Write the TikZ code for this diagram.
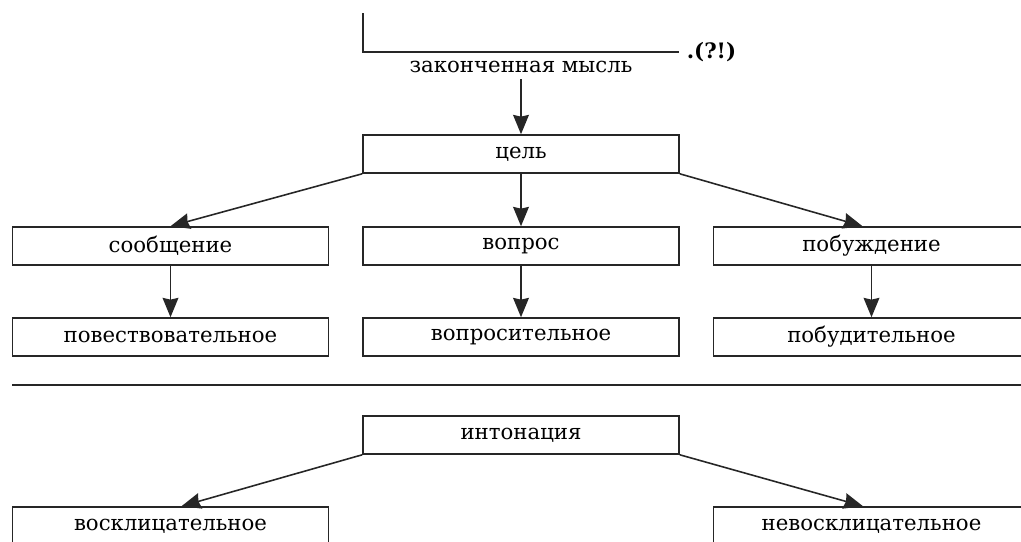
\documentclass[tikz,border=0pt]{standalone}
\usepackage{fontspec}
\setmainfont{DejaVu Serif}
\usetikzlibrary{arrows.meta}

\begin{document}
\begin{tikzpicture}[line width=0.9pt,x=0.02cm,y=-0.02cm,
    box/.style={draw=black!85,minimum width=6.32cm,minimum height=0.76cm,inner sep=0pt,font=\fontsize{12.1}{14}\selectfont},
    arr/.style={draw=black!85,-{Stealth[length=11pt,width=9pt,inset=1pt]}}]
  \useasboundingbox (0,0) rectangle (1021,541);
  \clip (0,0) rectangle (1021,541);
      \coordinate (brtop) at (363,13);
        \coordinate (brcorner) at (363,52);
          \coordinate (brend) at (679,52);
            \coordinate (ruleL) at (12,385);
              \coordinate (ruleR) at (1021,385);
  \draw[black!85] (brtop)--(brcorner)--(brend);
  \node[right,inner sep=4pt,font=\fontsize{12.1}{14}\selectfont\bfseries] (punct) at (brend) {.(?!)};
  \node[font=\fontsize{12.1}{14}\selectfont] (thought) at (521,67) {законченная мысль};

  \node[box] (goal) at (521,154) {цель};
     \node[box] (message) at (170.5,246) {сообщение};
     \node[box] (question) at (521,246) {вопрос};
     \node[box] (motive) at (871.5,246) {побуждение};
  \node[box] (narr) at (170.5,337) {повествовательное};
  \node[box] (interr) at (521,337) {вопросительное};
  \node[box] (imper) at (871.5,337) {побудительное};

  \draw[black!85] (ruleL)--(ruleR);

  \node[box] (inton) at (521,435) {интонация};
     \node[box] (excl) at (170.5,526) {восклицательное};
     \node[box] (nonexcl) at (871.5,526) {невосклицательное};

  \draw[arr] (thought)--(goal);
  \draw[arr] (goal.south west)--(message.north);
  \draw[arr] (goal)--(question);
  \draw[arr] (goal.south east)--([xshift=-0.18cm]motive.north);
  \draw[arr] (message)--(narr);
  \draw[arr] (question)--(interr);
  \draw[arr] (motive)--(imper);
  \draw[arr] (inton.south west)--([xshift=0.22cm]excl.north);
  \draw[arr] (inton.south east)--([xshift=-0.17cm]nonexcl.north);
\end{tikzpicture}
\end{document}
